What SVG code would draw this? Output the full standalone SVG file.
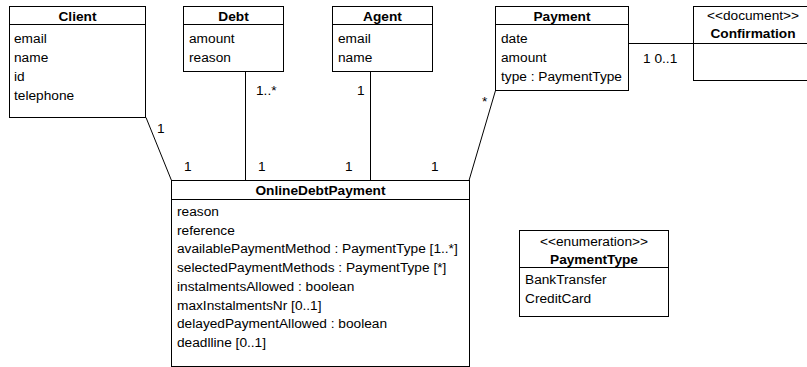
<svg xmlns="http://www.w3.org/2000/svg" width="807" height="367" viewBox="0 0 807 367">
<style>
rect{fill:#fff;stroke:#000;stroke-width:1}
line{stroke:#000;stroke-width:1}
text{font-family:"Liberation Sans",Arial,sans-serif;font-size:13.7px;fill:#000}
.t{font-weight:bold;text-anchor:middle}
.s{text-anchor:middle}
</style>
<rect x="0" y="0" width="807" height="367" style="stroke:none"/>
<g id="connectors">
<line x1="146" y1="117.5" x2="171.5" y2="180.5"/>
<line x1="245.5" y1="71.5" x2="245.5" y2="180.5"/>
<line x1="370.5" y1="71.5" x2="370.5" y2="180.5"/>
<line x1="495.5" y1="90.5" x2="469" y2="180.5"/>
<line x1="628.5" y1="43.5" x2="693.5" y2="43.5"/>
<text x="157" y="133">1</text>
<text x="184" y="171">1</text>
<text x="258" y="171">1</text>
<text x="345" y="171">1</text>
<text x="431" y="171">1</text>
<text x="256" y="95">1..*</text>
<text x="357" y="95">1</text>
<text x="482" y="106">*</text>
<text x="643" y="63">1 0..1</text>
</g>
<g id="Client">
<rect x="9.5" y="6.5" width="136" height="111"/>
<line x1="9.5" y1="24.5" x2="145.5" y2="24.5"/>
<text class="t" x="77.5" y="20.5">Client</text>
<text x="14" y="43">email</text>
<text x="14" y="62">name</text>
<text x="14" y="81">id</text>
<text x="14" y="99.5">telephone</text>
</g>
<g id="Debt">
<rect x="183.5" y="6.5" width="100" height="65"/>
<line x1="183.5" y1="24.5" x2="283.5" y2="24.5"/>
<text class="t" x="233.5" y="20.5">Debt</text>
<text x="189" y="43">amount</text>
<text x="189" y="62">reason</text>
</g>
<g id="Agent">
<rect x="332.5" y="6.5" width="100" height="65"/>
<line x1="332.5" y1="24.5" x2="432.5" y2="24.5"/>
<text class="t" x="382.5" y="20.5">Agent</text>
<text x="338" y="43">email</text>
<text x="338" y="62">name</text>
</g>
<g id="Payment">
<rect x="495.5" y="6.5" width="133" height="84"/>
<line x1="495.5" y1="24.5" x2="628.5" y2="24.5"/>
<text class="t" x="562" y="20.5">Payment</text>
<text x="501" y="43">date</text>
<text x="501" y="62">amount</text>
<text x="501" y="81">type : PaymentType</text>
</g>
<g id="Confirmation">
<rect x="693.5" y="6.5" width="120" height="74"/>
<line x1="693.5" y1="43.5" x2="813.5" y2="43.5"/>
<text class="s" x="753" y="20">&lt;&lt;document&gt;&gt;</text>
<text class="t" x="753" y="38">Confirmation</text>
</g>
<g id="OnlineDebtPayment">
<rect x="171.5" y="180.5" width="298" height="186"/>
<line x1="171.5" y1="199.5" x2="469.5" y2="199.5"/>
<text class="t" x="320.5" y="194.5">OnlineDebtPayment</text>
<text x="177" y="216">reason</text>
<text x="177" y="234.7">reference</text>
<text x="177" y="253.4">availablePaymentMethod : PaymentType [1..*]</text>
<text x="177" y="272.1">selectedPaymentMethods : PaymentType [*]</text>
<text x="177" y="290.8">instalmentsAllowed : boolean</text>
<text x="177" y="309.5">maxInstalmentsNr [0..1]</text>
<text x="177" y="328.2">delayedPaymentAllowed : boolean</text>
<text x="177" y="346.9">deadlline [0..1]</text>
</g>
<g id="PaymentType">
<rect x="519.5" y="230.5" width="149" height="86"/>
<line x1="519.5" y1="267.5" x2="668.5" y2="267.5"/>
<text class="s" x="594" y="246">&lt;&lt;enumeration&gt;&gt;</text>
<text class="t" x="594" y="263.5">PaymentType</text>
<text x="525" y="284">BankTransfer</text>
<text x="525" y="303">CreditCard</text>
</g>
</svg>
